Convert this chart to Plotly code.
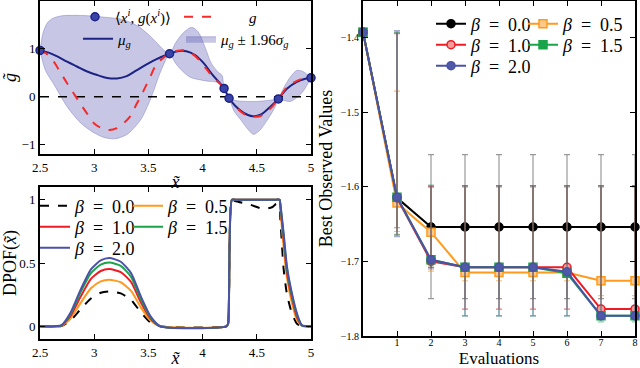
import plotly.graph_objects as go

W, H = 640, 368

# ---- top left panel: samples of g, GP mean and 95% band
obs_x = [2.5, 3.695, 4.198, 4.244, 4.699, 5.0]
obs_y = [0.966, 0.897, 0.172, -0.034, -0.048, 0.393]

mu_x = [2.5, 2.58, 2.66, 2.75, 2.84, 2.93, 3.03, 3.12, 3.21, 3.30, 3.39, 3.48, 3.57, 3.695,
        3.77, 3.85, 3.93, 4.01, 4.09, 4.198, 4.244, 4.30, 4.38, 4.46, 4.54, 4.62, 4.699,
        4.78, 4.87, 4.94, 5.0]
mu_y = [0.966, 0.92, 0.84, 0.73, 0.63, 0.53, 0.45, 0.39, 0.38, 0.43, 0.55, 0.67, 0.78, 0.897,
        0.95, 0.95, 0.87, 0.70, 0.46, 0.172, -0.034, -0.19, -0.34, -0.41, -0.37, -0.22, -0.048,
        0.17, 0.31, 0.37, 0.393]

g_x = [2.5, 2.56, 2.63, 2.69, 2.75, 2.81, 2.87, 2.93, 3.0, 3.07, 3.14, 3.21, 3.27, 3.33, 3.39,
       3.45, 3.51, 3.57, 3.63, 3.695, 3.77, 3.85, 3.93, 4.01, 4.09, 4.198, 4.244, 4.30, 4.38,
       4.46, 4.54, 4.62, 4.699, 4.78, 4.87, 4.94, 5.0]
g_y = [0.966, 0.90, 0.72, 0.50, 0.28, 0.07, -0.14, -0.34, -0.56, -0.66, -0.70, -0.66, -0.56,
       -0.42, -0.16, 0.10, 0.38, 0.66, 0.80, 0.897, 0.96, 0.96, 0.85, 0.65, 0.42, 0.172, -0.034,
       -0.20, -0.36, -0.42, -0.40, -0.26, -0.048, 0.20, 0.33, 0.38, 0.393]

up_x = [2.5, 2.53, 2.57, 2.62, 2.70, 2.80, 2.95, 3.10, 3.25, 3.40, 3.50, 3.58, 3.64, 3.695,
        3.75, 3.82, 3.90, 3.96, 4.02, 4.08, 4.14, 4.18, 4.198, 4.22, 4.244, 4.30, 4.40, 4.50,
        4.60, 4.67, 4.699, 4.74, 4.80, 4.87, 4.93, 5.0]
up_y = [0.966, 1.35, 1.55, 1.64, 1.69, 1.70, 1.69, 1.66, 1.62, 1.48, 1.30, 1.12, 0.98, 0.897,
        1.12, 1.33, 1.45, 1.35, 1.05, 0.70, 0.52, 0.44, 0.172, 0.09, -0.034, -0.08, -0.10, -0.10,
        -0.08, -0.06, -0.048, 0.15, 0.38, 0.55, 0.52, 0.393]

lo_x = [2.5, 2.55, 2.63, 2.75, 2.875, 3.0, 3.10, 3.20, 3.31, 3.43, 3.52, 3.60, 3.65, 3.695,
        3.75, 3.82, 3.89, 3.98, 4.06, 4.14, 4.18, 4.198, 4.22, 4.244, 4.29, 4.35, 4.42, 4.47,
        4.53, 4.60, 4.67, 4.699, 4.75, 4.81, 4.87, 4.93, 5.0]
lo_y = [0.966, 0.55, 0.25, -0.21, -0.55, -0.76, -0.86, -0.88, -0.78, -0.48, -0.05, 0.45, 0.72,
        0.897, 0.70, 0.52, 0.40, 0.35, 0.32, 0.30, 0.25, 0.172, 0.05, -0.034, -0.30, -0.48,
        -0.69, -0.79, -0.70, -0.48, -0.21, -0.048, -0.08, -0.10, -0.02, 0.12, 0.393]

# ---- bottom left panel: DPOF for several beta
dpof_x = [2.5, 2.65, 2.70, 2.78, 2.875, 2.97, 3.06, 3.14, 3.245, 3.34, 3.43, 3.52, 3.61, 4.22,
          4.235, 4.27, 4.30, 4.44, 4.56, 4.64, 4.68, 4.71, 4.717, 4.748, 4.779, 4.825, 4.871,
          4.917, 5.0]
dpof = {
    "0.0": [0, 0, 0.003, 0.045, 0.135, 0.22, 0.265, 0.276, 0.26, 0.21, 0.11, 0.03, 0, 0,
            0.02, 1.0, 0.99, 0.96, 0.927, 0.94, 0.966, 0.93, 0.85, 0.45, 0.25, 0.10, 0.02, 0, 0],
    "0.5": [0, 0, 0.004, 0.06, 0.185, 0.30, 0.355, 0.368, 0.348, 0.28, 0.15, 0.045, 0, 0,
            0.02, 1.0, 1.0, 1.0, 1.0, 1.0, 1.0, 1.0, 0.93, 0.62, 0.38, 0.18, 0.05, 0.004, 0],
    "1.0": [0, 0, 0.006, 0.08, 0.235, 0.375, 0.437, 0.452, 0.428, 0.35, 0.19, 0.06, 0, 0,
            0.02, 1.0, 1.0, 1.0, 1.0, 1.0, 1.0, 1.0, 0.95, 0.68, 0.42, 0.22, 0.07, 0.006, 0],
    "1.5": [0, 0, 0.008, 0.095, 0.27, 0.42, 0.487, 0.504, 0.477, 0.39, 0.215, 0.07, 0, 0,
            0.02, 1.0, 1.0, 1.0, 1.0, 1.0, 1.0, 1.0, 0.96, 0.71, 0.45, 0.24, 0.09, 0.007, 0],
    "2.0": [0, 0, 0.01, 0.105, 0.29, 0.45, 0.52, 0.539, 0.51, 0.42, 0.236, 0.079, 0, 0,
            0.02, 1.0, 1.0, 1.0, 1.0, 1.0, 1.0, 1.0, 0.966, 0.73, 0.467, 0.257, 0.10, 0.008, 0],
}

# ---- right panel: best observed value per evaluation
evals = [0, 1, 2, 3, 4, 5, 6, 7, 8]
best = {
    "0.0": [-1.393, -1.615, -1.654, -1.654, -1.654, -1.654, -1.654, -1.654, -1.654],
    "0.5": [-1.393, -1.622, -1.661, -1.715, -1.715, -1.715, -1.715, -1.726, -1.726],
    "1.0": [-1.393, -1.615, -1.700, -1.708, -1.708, -1.708, -1.708, -1.764, -1.764],
    "1.5": [-1.393, -1.614, -1.698, -1.708, -1.708, -1.708, -1.716, -1.773, -1.773],
    "2.0": [-1.393, -1.614, -1.698, -1.708, -1.708, -1.708, -1.714, -1.773, -1.773],
}
err_up = {
    "0.0": [0, 0.222, 0.097, 0.097, 0.097, 0.097, 0.097, 0.097, 0.097],
    "0.5": [0, 0.15, 0.06, 0.114, 0.114, 0.114, 0.114, 0.125, 0.125],
    "1.0": [0, 0.22, 0.10, 0.109, 0.109, 0.109, 0.109, 0.165, 0.165],
    "1.5": [0, 0.22, 0.10, 0.109, 0.109, 0.109, 0.117, 0.174, 0.174],
    "2.0": [0, 0.223, 0.099, 0.109, 0.109, 0.109, 0.115, 0.174, 0.174],
}
err_dn = {
    "0.0": [0, 0.04, 0.096, 0.096, 0.096, 0.096, 0.096, 0.096, 0.096],
    "0.5": [0, 0.038, 0.052, 0.011, 0.011, 0.011, 0.011, 0.02, 0.02],
    "1.0": [0, 0.05, 0.008, 0.056, 0.056, 0.056, 0.056, 0, 0],
    "1.5": [0, 0.05, 0.01, 0.065, 0.065, 0.065, 0.057, 0.008, 0.008],
    "2.0": [0, 0.053, 0.012, 0.065, 0.065, 0.065, 0.059, 0.002, 0.002],
}

xt_left = [2.5, 3, 3.5, 4, 4.5, 5]
xt_left_txt = ["2.5", "3", "3.5", "4", "4.5", "5"]
yt_top = [-1, 0, 1]
yt_top_txt = ["\u22121", "0", "1"]
yt_dpof = [0, 0.5, 1]
yt_dpof_txt = ["0", "0.5", "1"]
xt_right = [1, 2, 3, 4, 5, 6, 7, 8]
yt_right = [-1.8, -1.7, -1.6, -1.5, -1.4]
yt_right_txt = ["\u22121.8", "\u22121.7", "\u22121.6", "\u22121.5", "\u22121.4"]

colors = {"0.0": "#000000", "0.5": "#ff9a1e", "1.0": "#ee1b24", "1.5": "#1aa34a", "2.0": "#4a52a8"}
fills = {"0.0": "#000000", "0.5": "#ffc98a", "1.0": "#f79a9a", "1.5": "#1aa34a", "2.0": "#5058a8"}
errcol = {"0.0": "rgba(0,0,0,0.4)", "0.5": "rgba(255,154,30,0.6)", "1.0": "rgba(238,27,36,0.6)",
          "1.5": "rgba(26,163,74,0.5)", "2.0": "rgba(74,82,168,0.5)"}
symbols = {"0.0": "circle", "0.5": "square", "1.0": "circle", "1.5": "square", "2.0": "circle"}

# legend anchor = centre of the legend symbol, in pixels
leg_pos_top = {"obs": (95, 17), "mu": (98, 39), "g": (199, 17), "band": (201, 39)}
leg_pos_dpof = {"0.0": (55, 206), "0.5": (148, 206), "1.0": (55, 227), "1.5": (148, 227), "2.0": (55, 248)}
leg_pos_best = {"0.0": (451, 24), "0.5": (543, 24), "1.0": (451, 45), "1.5": (543, 45), "2.0": (451, 66)}


def beta_label(b):
    return "<i>\u03b2</i>\u2002=\u2002" + b


fig = go.Figure()
legends = {}
nleg = [0]


def new_legend(pos, size):
    nleg[0] += 1
    name = "legend" if nleg[0] == 1 else "legend%d" % nleg[0]
    legends[name] = dict(x=(pos[0] - 20) / W, y=1 - pos[1] / H, xanchor="left", yanchor="middle",
                         bgcolor="rgba(0,0,0,0)", borderwidth=0, font=dict(size=size),
                         itemclick=False, itemdoubleclick=False)
    return name


band_line = dict(color="rgba(90,90,180,0.35)", width=1, shape="spline", smoothing=0.8)
fig.add_trace(go.Scatter(x=lo_x, y=lo_y, mode="lines", line=band_line, showlegend=False,
                         xaxis="x", yaxis="y"))
fig.add_trace(go.Scatter(x=up_x, y=up_y, mode="lines", line=band_line, fill="tonexty",
                         fillcolor="rgba(70,70,170,0.3)",
                         name="<i>\u03bc<sub>g</sub></i> \u00b1 1.96<i>\u03c3<sub>g</sub></i>",
                         legend=new_legend(leg_pos_top["band"], 15), xaxis="x", yaxis="y"))
fig.add_trace(go.Scatter(x=[2.5, 5], y=[0, 0], mode="lines", showlegend=False,
                         line=dict(color="black", width=1.5, dash="dash"), xaxis="x", yaxis="y"))
fig.add_trace(go.Scatter(x=mu_x, y=mu_y, mode="lines", name="<i>\u03bc<sub>g</sub></i>",
                         line=dict(color="#1c2385", width=2, shape="spline", smoothing=1),
                         legend=new_legend(leg_pos_top["mu"], 15), xaxis="x", yaxis="y"))
fig.add_trace(go.Scatter(x=g_x, y=g_y, mode="lines", name="\u2003\u2003<i>g</i>",
                         line=dict(color="#f52a2a", width=2, dash="dash", shape="spline", smoothing=1),
                         legend=new_legend(leg_pos_top["g"], 15), xaxis="x", yaxis="y"))
fig.add_trace(go.Scatter(x=obs_x, y=obs_y, mode="markers", cliponaxis=False,
                         name="\u27e8<i>x<sup>i</sup></i>, <i>g</i>(<i>x<sup>i</sup></i>)\u27e9",
                         marker=dict(size=8, color="#3a44a8", line=dict(color="#1c2385", width=1.5)),
                         legend=new_legend(leg_pos_top["obs"], 15), xaxis="x", yaxis="y"))

for b, ys in dpof.items():
    fig.add_trace(go.Scatter(x=dpof_x, y=ys, mode="lines", name=beta_label(b),
                             line=dict(color=colors[b], width=2, shape="spline", smoothing=0.6,
                                       dash="dash" if b == "0.0" else "solid"),
                             legend=new_legend(leg_pos_dpof[b], 18), xaxis="x2", yaxis="y2"))

for b, ys in best.items():
    fig.add_trace(go.Scatter(x=evals, y=ys, mode="lines+markers", name=beta_label(b), cliponaxis=False,
                             line=dict(color=colors[b], width=2),
                             marker=dict(symbol=symbols[b], size=8, color=fills[b],
                                         line=dict(color=colors[b], width=1.5)),
                             error_y=dict(type="data", symmetric=False, array=err_up[b],
                                          arrayminus=err_dn[b], color=errcol[b], thickness=1.2, width=3),
                             legend=new_legend(leg_pos_best[b], 18), xaxis="x3", yaxis="y3"))


def frame(**kw):
    d = dict(showline=True, linewidth=2, linecolor="black", mirror="ticks", ticks="inside",
             ticklen=5, tickwidth=1, tickcolor="black", showgrid=False, zeroline=False,
             automargin=False, tickfont=dict(size=13))
    d.update(kw)
    return d


fig.update_layout(
    width=W, height=H, margin=dict(l=0, r=0, t=0, b=0), template="none",
    paper_bgcolor="white", plot_bgcolor="white",
    font=dict(family="Liberation Serif, DejaVu Serif, serif", color="black"),
    xaxis=frame(domain=[40 / W, 311 / W], anchor="y", range=[2.5, 5], tickvals=xt_left,
                ticktext=xt_left_txt, title=dict(text="<i>x\u0303</i>", font=dict(size=18), standoff=2)),
    yaxis=frame(domain=[1 - 154 / H, 1 - 1 / H], anchor="x", range=[-1.2, 2.0], tickvals=yt_top,
                ticktext=yt_top_txt, title=dict(text="<i>g\u0303</i>", font=dict(size=18), standoff=4)),
    xaxis2=frame(domain=[40 / W, 311 / W], anchor="y2", range=[2.5, 5], tickvals=xt_left,
                 ticktext=xt_left_txt, title=dict(text="<i>x\u0303</i>", font=dict(size=18), standoff=0)),
    yaxis2=frame(domain=[1 - 339 / H, 1 - 187 / H], anchor="x2", range=[-0.1, 1.1], tickvals=yt_dpof,
                 ticktext=yt_dpof_txt,
                 title=dict(text="DPOF(<i>x\u0303</i>)", font=dict(size=18), standoff=2)),
    xaxis3=frame(domain=[363 / W, 635 / W], anchor="y3", range=[0, 8], tickvals=xt_right,
                 tickfont=dict(size=10), ticklabelstandoff=-4,
                 title=dict(text="Evaluations", font=dict(size=17), standoff=6)),
    yaxis3=frame(domain=[1 - 336 / H, 1 - 1 / H], anchor="x3", range=[-1.8, -1.3513], tickvals=yt_right,
                 ticktext=yt_right_txt, tickfont=dict(size=10),
                 title=dict(text="Best Observed Values", font=dict(size=18), standoff=4)),
    **legends,
)

# the page body has an 8px default margin; drop it so the figure starts at the corner
fig.write_html("out.html", config={"displayModeBar": False},
               post_script="document.body.style.margin='0';")
